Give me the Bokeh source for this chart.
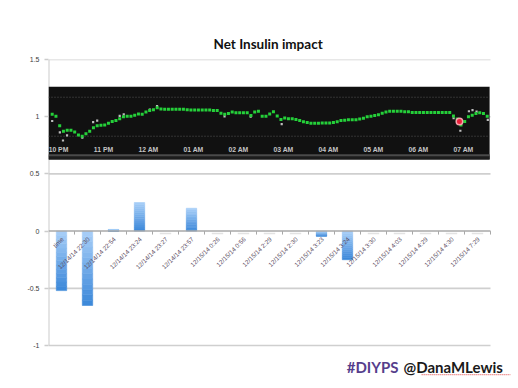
import numpy as np
from bokeh.plotting import figure
from bokeh.models import Range1d, FixedTicker, Label
from bokeh.core.properties import value
from bokeh.embed import file_html
from bokeh.resources import INLINE

# ---------------- data ----------------
categories = ["time", "12/14/14 22:30", "12/14/14 22:54", "12/14/14 23:24",
              "12/14/14 23:27", "12/14/14 23:57", "12/15/14 0:26", "12/15/14 0:56",
              "12/15/14 2:29", "12/15/14 2:30", "12/15/14 3:23", "12/15/14 3:24",
              "12/15/14 3:30", "12/15/14 4:03", "12/15/14 4:29", "12/15/14 4:30",
              "12/15/14 7:29"]
net_impact = [-0.52, -0.65, 0.015, 0.25, 0.0, 0.20, 0.0, 0.0,
              0.0, 0.0, -0.045, -0.25, 0.0, 0.0, 0.0, 0.0, 0.0]

y_ticks = [-1, -0.5, 0, 0.5, 1, 1.5]
y_tick_labels = ["-1", "-0.5", "0", "0.5", "1", "1.5"]

# CGM screenshot (hours after midnight of 12/14, readings every 5 min)
cgm_start_hour = 21.86
cgm_step_hour = 5 / 60
cgm_bg = [136, 131, 107, 93, 95, 95, 91, 83, 80, 86, 93, 102, 107, 108, 109, 113,
          118, 120, 125, 130, 131, 131, 134, 137, 136, 142, 146, 148, 153, 150,
          149, 149, 149, 149, 149, 149, 148, 147, 147, 147, 147, 147, 147, 146,
          146, 139, 136, 138, 142, 140, 140, 140, 140, 133, 142, 144, 131, 131,
          137, 143, 132, 123, 127, 125, 125, 123, 120, 117, 115, 113, 113, 113,
          114, 114, 114, 115, 117, 120, 121, 122, 122, 122, 124, 126, 130, 131,
          133, 135, 139, 142, 144, 144, 144, 144, 143, 143, 141, 141, 141, 141,
          141, 141, 141, 141, 141, 141, 141, 132, 124, 109, 118, 130, 134, 138,
          140, 138, 131]
raw_hour = [21.86, 22.03, 22.10, 22.19, 22.53, 22.77, 22.86, 23.36, 23.45, 24.03,
            24.19, 25.69, 26.27, 26.96, 30.78, 30.93, 31.12, 31.20, 31.29, 31.54]
raw_bg = [119, 90, 69, 82, 76, 116, 120, 132, 136, 148,
          157, 131, 130, 111, 126, 94, 144, 147, 143, 122]
meter_hour = [30.91]
meter_bg = [118]
clock_hours = [22, 23, 24, 25, 26, 27, 28, 29, 30, 31]
clock_labels = ["10 PM", "11 PM", "12 AM", "01 AM", "02 AM", "03 AM",
                "04 AM", "05 AM", "06 AM", "07 AM"]
target_high, target_low = 180, 80

# ---------------- figure ----------------
ncat = len(categories)
p = figure(width=518, height=388, x_range=Range1d(0, ncat + 28 / 26),
           y_range=Range1d(-1.358, 1.5), x_axis_location=None,
           output_backend="svg", toolbar_location=None,
           min_border_left=48, min_border_right=0,
           min_border_top=59, min_border_bottom=2)
p.extra_x_ranges = {"t": Range1d(21.778, 32.222)}
p.extra_y_ranges = {"bg": Range1d(-561.8, 276.7)}
p.outline_line_color = None
p.background_fill_color = "white"
p.border_fill_color = "white"

p.title.text = "Net Insulin impact"
p.title.align = "left"
p.title.offset = 165
p.title.text_font = "Lato"
p.title.text_font_size = "13.5px"
p.title.text_font_style = "bold"
p.title.text_color = "#111111"
p.title.standoff = 16

p.grid.visible = False
p.yaxis.ticker = FixedTicker(ticks=y_ticks)
p.yaxis.major_label_overrides = {t: l for t, l in zip(y_ticks, y_tick_labels)}
p.yaxis.axis_line_color = None
p.yaxis.major_tick_line_color = "#cccccc"
p.yaxis.major_tick_line_width = 1.4
p.yaxis.major_tick_out = 4
p.yaxis.major_tick_in = 0
p.yaxis.minor_tick_line_color = None
p.yaxis.major_label_text_font = "Liberation Sans"
p.yaxis.major_label_text_font_size = "7px"
p.yaxis.major_label_text_color = "#3c3c3c"
p.yaxis.major_label_standoff = 5

# gridlines across the category area only
grid_y = [t for t in y_ticks if t != 0]
p.segment(x0=np.zeros(len(grid_y)), y0=grid_y, x1=np.full(len(grid_y), ncat),
          y1=grid_y, line_color="#cfcfcf", line_width=1.6)
# value-axis line spanning only the tick range
p.segment(x0=[0], y0=[min(y_ticks)], x1=[0], y1=[max(y_ticks)],
          line_color="#cccccc", line_width=2)

cat_x = np.arange(ncat) + 0.5  # category centres on the linear axis

# ---------------- bars (vertical gradient by slices) ----------------
light = np.array([0xa9, 0xcf, 0xf8])
dark = np.array([0x3a, 0x87, 0xd9])
nslice = 14
bx, bb, bt, bc = [], [], [], []
for cx, v in zip(cat_x, net_impact):
    if v == 0:
        continue
    lo, hi = min(0, v), max(0, v)
    for k in range(nslice):
        f = (k + 0.5) / nslice
        col = dark + (light - dark) * f
        bx.append(cx)
        bb.append(lo + (hi - lo) * k / nslice)
        bt.append(lo + (hi - lo) * (k + 1) / nslice)
        bc.append("#%02x%02x%02x" % tuple(int(round(c)) for c in col))
p.vbar(x=bx, bottom=bb, top=bt, width=0.4, fill_color=bc, line_color=bc,
       line_width=0.6)

# faint marks for zero-valued categories
zero_x = [cx for cx, v in zip(cat_x, net_impact) if v == 0]
p.segment(x0=np.array(zero_x) - 0.22, y0=np.full(len(zero_x), -0.02),
          x1=np.array(zero_x) + 0.22, y1=np.full(len(zero_x), -0.02),
          line_color="#e2e2e2", line_width=1.5)

# category (zero) axis line and ticks
p.segment(x0=[0], y0=[0], x1=[ncat], y1=[0], line_color="#a8a8a8", line_width=1.5)
p.segment(x0=cat_x + 0.5, y0=np.zeros(ncat), x1=cat_x + 0.5,
          y1=np.full(ncat, -0.03), line_color="#a8a8a8", line_width=1)

# category labels
p.text(x=cat_x, y=np.zeros(ncat), text=categories,
       angle=np.pi / 4, text_align="right", text_baseline="middle",
       x_offset=1, y_offset=7, text_font=value("Liberation Sans"),
       text_font_size="6.3px", text_color="#5a4a5e")

# ---------------- embedded CGM screenshot ----------------
p.quad(left=21.778, right=31.58, bottom=20, top=207, x_range_name="t",
       y_range_name="bg", fill_color="#111111", line_color=None)
p.quad(left=21.778, right=31.58, bottom=20, top=30, x_range_name="t",
       y_range_name="bg", fill_color="#1c1c1c", line_color=None)
for lvl in (target_high, target_low):
    p.segment(x0=21.778, y0=lvl, x1=31.58, y1=lvl, x_range_name="t",
              y_range_name="bg", line_color="#555555", line_width=1,
              line_dash="1 2")
p.segment(x0=21.778, y0=31, x1=31.58, y1=31, x_range_name="t",
          y_range_name="bg", line_color="#4a4a4a", line_width=2)

cgm_hour = cgm_start_hour + cgm_step_hour * np.arange(len(cgm_bg))
p.scatter(x=raw_hour, y=raw_bg, x_range_name="t", y_range_name="bg",
          marker="square", size=2.2, fill_color="#bdbdbd", line_color=None)
p.scatter(x=cgm_hour, y=cgm_bg, x_range_name="t", y_range_name="bg",
          marker="square", size=3.0, fill_color="#25d03a", line_color=None)
p.scatter(x=meter_hour, y=meter_bg, x_range_name="t", y_range_name="bg",
          marker="circle", size=6.5, fill_color="#e8203a", line_color="#f3a3ad",
          line_width=1.5)
p.text(x=clock_hours, y=np.full(len(clock_hours), 45.0), text=clock_labels,
       x_range_name="t", y_range_name="bg", text_align="center",
       text_baseline="middle", text_font=value("Liberation Sans"),
       text_font_style="bold", text_font_size="6.8px", text_color="#c4c4c4")

# ---------------- footer ----------------
p.add_layout(Label(x=29.6, y=-1.184, x_range_name="t", text="#DIYPS",
                   text_align="right", text_baseline="middle", x_offset=-2,
                   text_font="Lato", text_font_style="bold",
                   text_font_size="15px", text_color="#563e8c"))
p.add_layout(Label(x=29.6, y=-1.184, x_range_name="t", text="@DanaMLewis",
                   text_align="left", text_baseline="middle", x_offset=3,
                   text_font="Lato", text_font_style="bold",
                   text_font_size="15px", text_color="#1a1a1a"))
# spell-check squiggle under the handle
p.segment(x0=[30.07], y0=[-1.255], x1=[32.04], y1=[-1.255], x_range_name="t",
          line_color="#e04040", line_width=1, line_dash="1 1")

open("out.html", "w").write(file_html(p, INLINE))
